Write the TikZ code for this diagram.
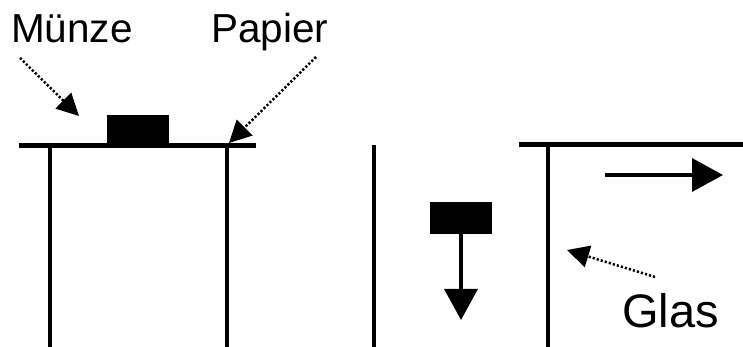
\documentclass[tikz,border=0pt]{standalone}
\usepackage{fontspec}
\setmainfont{Liberation Sans}
\usetikzlibrary{arrows.meta}
\begin{document}
\begin{tikzpicture}[x=1pt,y=1pt,
  paper/.style={line width=5pt},
  wall/.style={line width=3.5pt},
  coin/.style={fill=black,draw=none},
  pointer/.style={line width=2.5pt,dash pattern=on 2.2pt off 2pt,-{Triangle[length=22pt,width=22pt]}},
  motion/.style={line width=3.5pt,-{Triangle[length=31pt,width=33pt]}},
  label/.style={inner sep=0pt,anchor=base west,font=\fontsize{40.5}{44}\selectfont},
  biglabel/.style={inner sep=0pt,anchor=base west,font=\fontsize{47}{50}\selectfont}]
\useasboundingbox (0,0) rectangle (743,347);
% left panel
\coordinate (p1a) at (19,201);
\coordinate (p1b) at (256,201);
\draw[paper] (p1a) -- (p1b);
\coordinate (w1t) at (50,201); \coordinate (w1b) at (50,0);
\coordinate (w2t) at (227,201); \coordinate (w2b) at (227,0);
\draw[wall] (w1t) -- (w1b);
\draw[wall] (w2t) -- (w2b);
\fill[coin] (107,201) rectangle (169,232);
\node[label] (muenze) at (11,304) {Münze};
\node[label] (papier) at (211,304) {Papier};
\coordinate (ma) at (20,289); \coordinate (mb) at (79,231);
\draw[pointer] (ma) -- (mb);
\coordinate (pa) at (316,290); \coordinate (pb) at (229,204);
\draw[pointer] (pa) -- (pb);
% middle panel
\coordinate (w3t) at (374,202); \coordinate (w3b) at (374,0);
\draw[wall] (w3t) -- (w3b);
\fill[coin] (430,113) rectangle (492,145);
\coordinate (da) at (461,113); \coordinate (db) at (461,27);
\draw[motion] (da) -- (db);
% right panel
\coordinate (p2a) at (519,202); \coordinate (p2b) at (743,202);
\draw[paper] (p2a) -- (p2b);
\coordinate (w4t) at (548,202); \coordinate (w4b) at (548,0);
\draw[wall] (w4t) -- (w4b);
\coordinate (ra) at (605,172); \coordinate (rb) at (723,172);
\draw[motion] (ra) -- (rb);
\node[biglabel] (glas) at (622,19) {Glas};
\coordinate (ga) at (655,70); \coordinate (gb) at (567,97);
\draw[pointer] (ga) -- (gb);
\end{tikzpicture}
\end{document}
